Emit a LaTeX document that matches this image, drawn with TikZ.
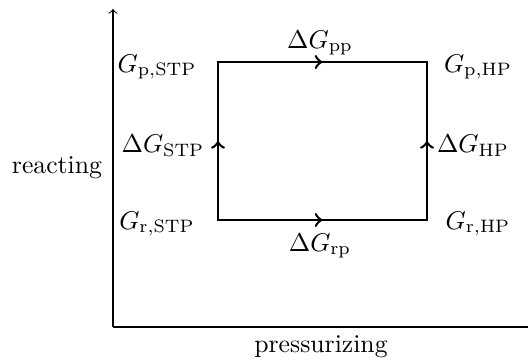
\documentclass[tikz,border=0pt]{standalone}
\usetikzlibrary{decorations.markings}
\begin{document}
\begin{tikzpicture}[x=0.3891pt,y=-0.3891pt,
  edge/.style={line width=1pt, line cap=rect, postaction={decorate},
    decoration={markings, mark=at position 0.5 with {\arrow[line width=1pt]{>}}}},
  axis/.style={line width=0.4pt},
  lbl/.style={inner sep=0pt}]
\useasboundingbox (0,0) rectangle (528,360);
\coordinate (rS) at (218,220);
\coordinate (rH) at (427,220);
\coordinate (pH) at (427,62);
\coordinate (pS) at (218,62);
\coordinate (O) at (113,327);
\coordinate (Y) at (113,9);
\coordinate (X) at (528,327);
\draw[axis,->] (O) -- (Y);
\draw[axis] (O) -- (X);
\draw[edge] (rS) -- (rH);
\draw[edge] (pS) -- (pH);
\draw[edge] (rS) -- (pS);
\draw[edge] (rH) -- (pH);
\node[lbl] (GpS) at (157,67) {$G_{\mathrm{p,STP}}$};
\node[lbl] (GpH) at (478,67) {$G_{\mathrm{p,HP}}$};
\node[lbl] (dGpp) at (320,43) {$\Delta G_{\mathrm{pp}}$};
\node[lbl] (dGS) at (163,146) {$\Delta G_{\mathrm{STP}}$};
\node[lbl] (dGH) at (473,146) {$\Delta G_{\mathrm{HP}}$};
\node[lbl] (react) at (57,168) {reacting};
\node[lbl] (GrS) at (157,224) {$G_{\mathrm{r,STP}}$};
\node[lbl] (GrH) at (478,224) {$G_{\mathrm{r,HP}}$};
\node[lbl] (dGrp) at (320,246) {$\Delta G_{\mathrm{rp}}$};
\node[lbl] (press) at (321,347) {pressurizing};
\end{tikzpicture}
\end{document}
